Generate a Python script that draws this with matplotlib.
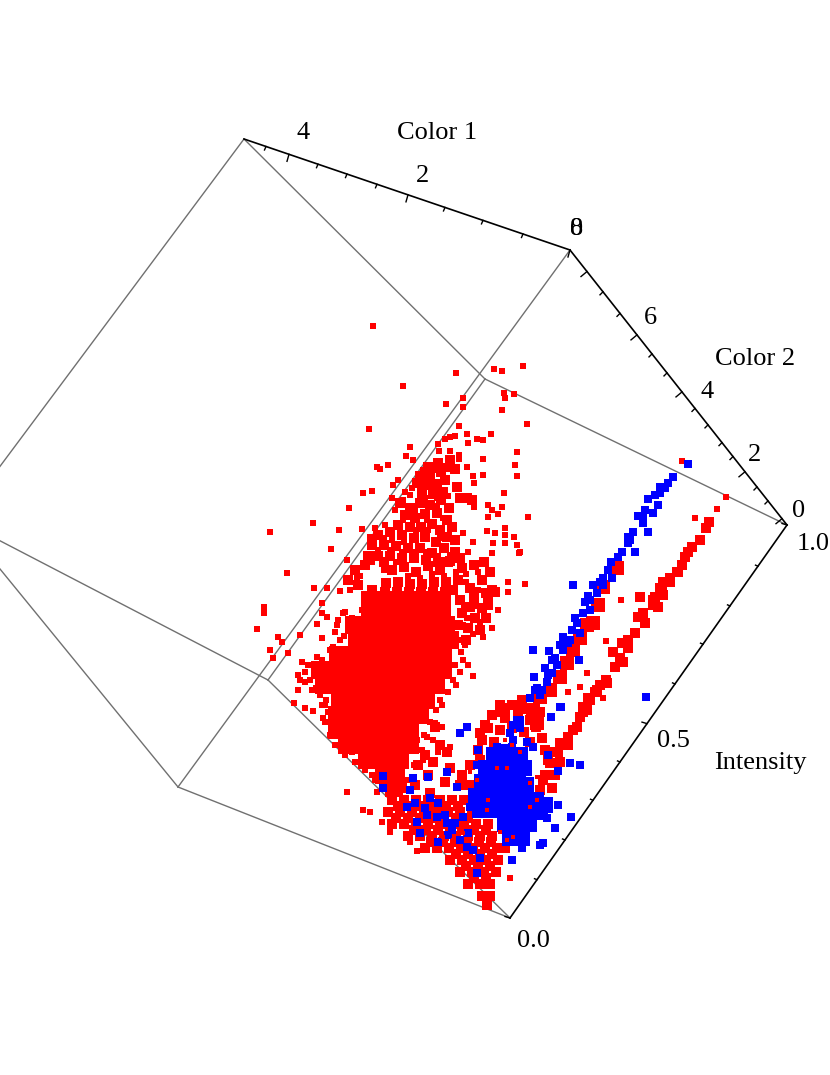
import numpy as np
from matplotlib import pyplot as plt

# box corners as they land on the page (the box is cut off by the left edge)
corner_top = (570, 250)
corner_back = (244, 139)
corner_right = (787, 525)
corner_inner = (485, 379)
corner_low = (510, 918)
corner_left = (178, 787)
corner_mid = (268, 680)
corner_far = (-40, 520)

# scattered red points, read one by one
red_sparse = [(373, 326), (456, 373), (403, 386), (446, 404), (463, 398), (463, 407), (494, 369), (502, 371),
              (523, 366), (504, 393), (505, 398), (514, 394), (502, 410), (527, 424), (459, 426), (369, 429),
              (467, 434), (450, 437), (445, 439), (455, 436), (477, 439), (483, 440), (491, 434), (468, 443),
              (410, 447), (438, 444), (406, 456), (413, 460), (450, 451), (459, 455), (459, 459), (439, 451),
              (517, 452), (483, 459), (515, 465), (517, 476), (467, 467), (473, 476), (483, 475), (474, 483),
              (377, 467), (380, 469), (388, 465), (398, 480), (393, 485), (372, 491), (363, 493), (504, 493),
              (349, 508), (313, 523), (270, 532), (339, 530), (488, 505), (492, 510), (488, 517), (498, 514),
              (502, 507), (474, 507), (528, 517), (487, 531), (495, 533), (505, 528), (505, 535), (514, 537),
              (493, 543), (505, 543), (517, 545), (519, 553), (492, 553), (331, 549), (463, 533), (473, 542),
              (468, 552), (362, 529), (370, 537), (508, 582), (508, 592), (525, 584), (498, 610), (483, 637),
              (520, 552), (287, 573), (314, 588), (327, 588), (340, 591), (322, 603), (322, 613), (317, 624),
              (327, 617), (264, 613), (264, 607), (257, 629), (278, 637), (282, 642), (300, 635), (322, 638),
              (270, 650), (273, 658), (288, 653), (302, 662), (347, 560), (357, 578), (343, 613), (337, 625),
              (333, 647), (317, 657), (308, 665), (298, 675), (305, 682), (298, 690), (294, 703), (305, 708),
              (313, 711), (322, 705), (323, 718), (347, 792), (463, 660), (468, 665), (460, 672), (473, 676),
              (456, 685), (442, 705), (435, 723), (442, 727), (427, 737), (433, 740), (450, 747), (438, 752),
              (423, 760), (417, 740), (370, 812), (363, 810), (382, 822), (390, 832), (417, 851), (510, 878),
              (410, 842), (377, 792), (682, 461), (726, 497), (717, 509), (695, 518), (621, 600), (606, 641),
              (587, 673), (568, 692), (580, 687), (603, 698),
              # rough edge of the big cloud
              (345, 612), (338, 620), (335, 632), (340, 640), (330, 650), (322, 660), (312, 665), (305, 672),
              (310, 680), (312, 690), (320, 695), (325, 705), (328, 712), (325, 722), (330, 735), (335, 745),
              (345, 755), (355, 762), (365, 770), (375, 780), (458, 600), (461, 612), (463, 625), (465, 645),
              (461, 652), (455, 665), (453, 680), (448, 692), (440, 700), (436, 710), (430, 722), (424, 735),
              (422, 750), (414, 765), (408, 780), (405, 790),
              (300, 680), (316, 688), (326, 700), (330, 722), (352, 752), (362, 765), (372, 775), (460, 640),
              # filling between the packed points of the upper cloud
              (395, 510), (403, 520), (415, 510), (427, 520), (437, 506), (443, 518), (392, 540), (404, 542),
              (416, 530), (428, 530), (440, 538), (384, 538), (378, 550), (390, 550), (402, 552), (414, 552),
              (426, 552), (438, 556), (450, 555), (372, 562), (384, 570), (396, 562), (408, 576), (420, 578),
              (432, 574), (444, 576), (456, 572), (466, 574), (478, 572), (360, 576), (350, 590), (384, 590),
              (396, 590), (408, 590), (420, 590), (432, 590), (444, 590), (466, 582), (478, 590), (476, 606),
              (464, 606), (490, 607), (467, 618), (480, 622), (492, 628), (473, 634), (410, 495), (403, 500),
              (425, 498), (437, 498), (448, 496), (423, 470), (433, 470), (445, 466), (412, 488), (405, 492),
              (365, 600), (362, 610), (352, 618), (348, 628), (344, 636), (392, 498), (385, 525), (375, 528)]

# the two thin streaks
red_streak_right = [(709, 522), (706, 528), (700, 540), (692, 547), (688, 552), (685, 557), (682, 565), (677, 572),
                    (670, 578), (663, 582), (660, 588), (663, 595), (655, 597), (653, 605), (658, 607), (640, 597),
                    (643, 613), (638, 617), (645, 623), (635, 633), (628, 640), (622, 643), (628, 648), (613, 652),
                    (620, 658), (623, 662), (615, 667), (606, 680), (600, 685), (595, 692), (588, 698), (583, 707),
                    (580, 717), (577, 727), (587, 710), (573, 730), (560, 743), (550, 763), (543, 780),
                    (653, 600), (662, 590), (670, 582), (678, 572), (607, 683), (597, 690), (590, 700), (583, 712),
                    (568, 737), (555, 752)]
red_streak_left = [(617, 568), (603, 587), (598, 605), (593, 623), (587, 625), (580, 638), (573, 650), (567, 663),
                   (560, 677), (550, 690), (540, 697), (533, 710), (520, 707), (537, 723), (503, 710)]

# where red points pile up but some white is left
red_packed = [(428, 467), (438, 463), (441, 472), (430, 476), (420, 476), (450, 460), (450, 467), (455, 469),
              (417, 483), (427, 485), (437, 484), (445, 480), (422, 493), (433, 494), (443, 492), (457, 487),
              (460, 498), (467, 498), (472, 500), (400, 503), (410, 508), (420, 503), (430, 505),
              (441, 500), (449, 508), (405, 515), (415, 518), (425, 514), (437, 513), (447, 520), (452, 527),
              (398, 525), (410, 527), (421, 527), (432, 524), (440, 530), (378, 535), (390, 532), (402, 535),
              (414, 538), (425, 537), (436, 542), (447, 537), (455, 540), (372, 545), (384, 545), (396, 546),
              (408, 548), (420, 548), (432, 553), (444, 548), (455, 552), (368, 556), (378, 556), (390, 556),
              (402, 558), (414, 558), (426, 560), (438, 562), (450, 561), (460, 558), (355, 570), (348, 580),
              (358, 585), (365, 565), (384, 562), (392, 570), (404, 567), (416, 572), (428, 566), (440, 570),
              (448, 562), (386, 583), (398, 582), (410, 584), (422, 584), (434, 582), (446, 582), (453, 590),
              (462, 568), (474, 565), (484, 562), (490, 572), (458, 580), (470, 588), (482, 580), (492, 590),
              (486, 593), (474, 598), (460, 600), (495, 592), (470, 607), (482, 608), (488, 600), (462, 613),
              (475, 618), (486, 618), (458, 625), (468, 628), (480, 630), (466, 640),
              (372, 590), (385, 592), (397, 592), (409, 592), (421, 592), (433, 592), (445, 592),
              (500, 705), (512, 705), (522, 700), (530, 708), (492, 715), (505, 718), (518, 715), (530, 720),
              (540, 712), (488, 728), (500, 730), (512, 728), (524, 732), (536, 727), (482, 740), (494, 742),
              (530, 742), (542, 738), (478, 750), (545, 750), (568, 745), (558, 752), (548, 760), (560, 762),
              (545, 775), (555, 775), (540, 790), (552, 788), (537, 800),
              (435, 727), (440, 745), (425, 755), (433, 762), (447, 752), (480, 733), (485, 725), (470, 765),
              (462, 775), (450, 768), (418, 765), (428, 775), (445, 782), (460, 785), (470, 785), (480, 760),
              (415, 785), (430, 793), (402, 788), (392, 792),
              (392, 800), (404, 800), (416, 800), (428, 800), (440, 800), (452, 800), (464, 800),
              (388, 812), (400, 812), (412, 812), (424, 812), (436, 812), (448, 812), (460, 812), (472, 812),
              (392, 824), (404, 824), (416, 824), (428, 824), (440, 824), (452, 824), (464, 824), (476, 824),
              (488, 824), (408, 836), (420, 836), (432, 836), (444, 836), (456, 836), (468, 836), (480, 836),
              (492, 836), (425, 848), (437, 848), (449, 848), (461, 848), (473, 848), (485, 848), (497, 848),
              (505, 848), (450, 860), (462, 860), (474, 860), (486, 860), (498, 860), (460, 872), (472, 872),
              (484, 872), (496, 872), (468, 884), (480, 884), (490, 884), (482, 896), (490, 896), (487, 905),
              (398, 806), (410, 806), (422, 806), (434, 806), (446, 806), (458, 806), (396, 818), (408, 818),
              (420, 818), (432, 818), (444, 818), (456, 818), (468, 818), (414, 830), (426, 830), (438, 830),
              (450, 830), (462, 830), (474, 830), (486, 830), (431, 842), (443, 842), (455, 842), (467, 842),
              (479, 842), (491, 842), (456, 854), (468, 854), (480, 854), (492, 854), (466, 866), (478, 866),
              (490, 866), (474, 878), (486, 878)]

# saturated part of the big cloud, nothing single can be read here
red_solid = [(370, 600), (382, 600), (394, 600), (406, 600), (418, 600), (430, 600), (442, 600),
             (370, 612), (382, 612), (394, 612), (406, 612), (418, 612), (430, 612), (442, 612),
             (354, 625), (366, 625), (378, 625), (390, 625), (402, 625), (414, 625), (426, 625), (438, 625), (446, 625),
             (357, 640), (369, 640), (381, 640), (393, 640), (405, 640), (417, 640), (429, 640), (441, 640), (450, 640),
             (338, 655), (350, 655), (362, 655), (374, 655), (386, 655), (398, 655), (410, 655), (422, 655), (434, 655), (443, 655),
             (320, 670), (332, 670), (344, 670), (356, 670), (368, 670), (380, 670), (392, 670), (404, 670), (416, 670), (428, 670), (443, 670),
             (324, 685), (336, 685), (348, 685), (360, 685), (372, 685), (384, 685), (396, 685), (408, 685), (420, 685), (436, 685),
             (340, 700), (352, 700), (364, 700), (376, 700), (388, 700), (400, 700), (412, 700), (426, 700),
             (337, 715), (349, 715), (361, 715), (373, 715), (385, 715), (397, 715), (409, 715), (420, 715),
             (337, 730), (349, 730), (361, 730), (373, 730), (385, 730), (397, 730), (410, 730),
             (347, 745), (359, 745), (371, 745), (383, 745), (395, 745), (410, 745),
             (367, 760), (379, 760), (391, 760), (400, 760),
             (384, 775), (396, 775), (394, 788)]

# red points that sit on top of the blue
red_on_blue = [(497, 768), (507, 768), (488, 800), (487, 810), (530, 783), (537, 777), (537, 800), (530, 807),
               (480, 827), (483, 832), (500, 832), (507, 840), (513, 837), (463, 833), (453, 840), (443, 837),
               (520, 752), (505, 740), (512, 745), (540, 790), (470, 772), (477, 780)]

blue_sparse = [(688, 464), (673, 477), (668, 483), (660, 487), (665, 488), (660, 493), (648, 499), (658, 505),
               (653, 513), (638, 516), (643, 523), (648, 532), (633, 532), (628, 537), (628, 543), (635, 552),
               (618, 557), (611, 562), (612, 578), (603, 578), (593, 585), (573, 585), (597, 593), (585, 602),
               (583, 613), (590, 610), (577, 623), (580, 633), (563, 637), (568, 643), (533, 650), (549, 651),
               (563, 650), (579, 660), (555, 658), (545, 668), (552, 673), (534, 677), (547, 682), (537, 688),
               (542, 690), (530, 698), (646, 697), (561, 707), (551, 717), (520, 720), (513, 725),
               (643, 518), (603, 585), (590, 600), (572, 630), (557, 665), (540, 695),
               (655, 495), (645, 510), (630, 540), (622, 552), (608, 570), (600, 582), (588, 596), (575, 618),
               (570, 640), (560, 645), (552, 660), (548, 675), (535, 690),
               (407, 807), (415, 803), (430, 798), (438, 803), (417, 822), (427, 815), (437, 817), (447, 823),
               (455, 823), (463, 817), (470, 807), (438, 842), (448, 835), (460, 840), (467, 847), (473, 850),
               (468, 833), (480, 858), (477, 873), (420, 833), (410, 790), (383, 788), (428, 777), (413, 778),
               (383, 776), (447, 772), (457, 787), (478, 750), (477, 765), (460, 733), (467, 727), (512, 860),
               (522, 848), (540, 845), (543, 843), (555, 828), (547, 818), (558, 805), (571, 817), (570, 763),
               (580, 765), (558, 771), (548, 755), (560, 707), (551, 717), (533, 747), (517, 720), (510, 733),
               (513, 740), (527, 742), (520, 728), (497, 747), (512, 747), (445, 815), (452, 830), (425, 808)]

blue_solid = [(494, 755), (508, 752), (520, 755), (486, 768), (498, 768), (512, 768), (524, 768),
              (482, 782), (494, 782), (506, 782), (518, 782), (526, 785), (476, 796), (488, 796), (500, 796),
              (512, 796), (524, 796), (536, 800), (545, 805), (480, 810), (492, 810), (504, 810), (516, 810),
              (528, 810), (540, 812), (505, 824), (517, 824), (529, 824), (510, 838), (522, 838)]

# tick positions along the three drawn edges, x
color1_tick_x = [523, 483, 445, 377, 347, 318, 266]
color1_major_x = [570, 408, 289]
color2_tick_x = [603, 620, 652, 667, 695, 708, 722, 733, 757, 768]
color2_major_x = [587, 637, 682, 745, 782]
intensity_tick_x = [537, 565, 593, 620, 675, 703, 730, 758]
intensity_major_x = [510, 647, 787]

tick_labels = [("4", 303, 133), ("2", 422, 176), ("8", 577, 229), ("0", 577, 229), ("6", 650, 318),
               ("4", 707, 392), ("2", 754, 455), ("0", 799, 511), ("1.0", 813, 544), ("0.5", 673, 741),
               ("0.0", 533, 941)]
axis_titles = [("Color 1", 437, 133), ("Color 2", 755, 359), ("Intensity", 760, 763)]

plt.rcParams['font.family'] = ['Liberation Serif', 'DejaVu Serif']


def on_edge(xs, a, b):
    xs = np.array(xs, dtype=float)
    t = (xs - a[0]) / (b[0] - a[0])
    return xs, a[1] + t * (b[1] - a[1])


def draw_edge(ax, a, b, color):
    ax.plot([a[0], b[0]], [a[1], b[1]], color=color, lw=1.2 if color == 'black' else 1.0,
            zorder=4 if color == 'black' else 1)


def draw_ticks(ax, xs, a, b, dx, dy):
    tx, ty = on_edge(xs, a, b)
    for x, y in zip(tx, ty):
        ax.plot([x, x + dx], [y, y + dy], color='black', lw=1.0, zorder=4)


def draw_points(ax, pts, color, size, z=2):
    pts = np.array(pts)
    ax.scatter(pts[:, 0], pts[:, 1], s=size, c=color, marker='s', linewidths=0, zorder=z)


fig = plt.figure(figsize=(8.3, 10.75), dpi=100)
ax = fig.add_axes([0, 0, 1, 1])
ax.set_xlim(0, 830)
ax.set_ylim(1075, 0)
ax.axis('off')

for a, b in [(corner_back, corner_inner), (corner_inner, corner_right), (corner_top, corner_left),
             (corner_inner, corner_mid), (corner_mid, corner_low), (corner_low, corner_left),
             (corner_back, corner_far), (corner_mid, corner_far), (corner_left, corner_far)]:
    draw_edge(ax, a, b, '#707070')
for a, b in [(corner_back, corner_top), (corner_top, corner_right), (corner_low, corner_right)]:
    draw_edge(ax, a, b, 'black')

draw_ticks(ax, color1_tick_x, corner_back, corner_top, -1.5, 3.5)
draw_ticks(ax, color1_major_x, corner_back, corner_top, -2, 7)
draw_ticks(ax, color2_tick_x, corner_top, corner_right, -3, 3)
draw_ticks(ax, color2_major_x, corner_top, corner_right, -6, 5)
draw_ticks(ax, intensity_tick_x, corner_low, corner_right, -2.5, -1)
draw_ticks(ax, intensity_major_x, corner_low, corner_right, -5, -1.5)

draw_points(ax, red_solid, '#ff0000', 160)
draw_points(ax, red_packed, '#ff0000', 62)
draw_points(ax, red_streak_right, '#ff0000', 50)
draw_points(ax, red_streak_left, '#ff0000', 100)
draw_points(ax, red_sparse, '#ff0000', 22)
draw_points(ax, blue_solid, '#0000ff', 135, z=3)
draw_points(ax, blue_sparse, '#0000ff', 36, z=3)
draw_points(ax, red_on_blue, '#ff0000', 12, z=3.5)

for label, x, y in tick_labels + axis_titles:
    ax.text(x, y, label, fontsize=19, ha='center', va='center', color='black', zorder=5)

plt.savefig("out.png", dpi=100)
